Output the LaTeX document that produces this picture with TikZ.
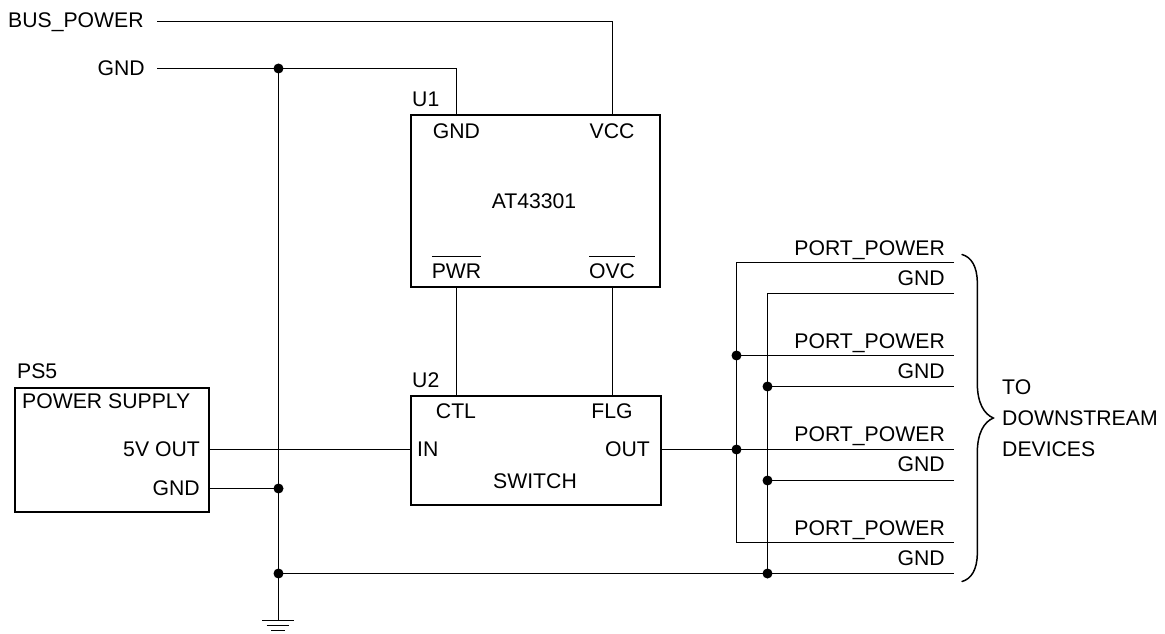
\documentclass[tikz,border=0pt]{standalone}
\usepackage{fontspec}
\setmainfont{Liberation Sans}
\tikzset{
  txt/.style={font=\fontsize{21.2}{25}\selectfont,inner sep=0pt,text=black},
  L/.style={txt,anchor=base west},
  R/.style={txt,anchor=base east},
  C/.style={txt,anchor=base},
  chip/.style={draw=black,line width=2pt,inner sep=0pt,anchor=north west},
  wire/.style={draw=black,line width=1pt},
  dotj/.style={circle,fill=black,draw=none,minimum size=10pt,inner sep=0pt},
}
\newcommand{\ovl}[1]{$\overline{\hbox{\rule{0pt}{20pt}#1}}$}
\begin{document}
\begin{tikzpicture}[x=1pt,y=-1pt]
\useasboundingbox (0,0) rectangle (1165,634);
% boxes
\node[chip,minimum width=249pt,minimum height=172pt] (u1) at (410,114) {};
\node[chip,minimum width=250pt,minimum height=109pt] (u2) at (410,395) {};
\node[chip,minimum width=194pt,minimum height=124pt] (ps) at (14,387) {};
% labels
\node[L] (lbus) at (8,28) {BUS\_POWER};
\node[R] (lgnd) at (145,75) {GND};
\node[L] (tu1) at (412,106.5) {U1};
\node[L] (tu2) at (412,387) {U2};
\node[L] (tps) at (17,378) {PS5};
\node[L] (tpsn) at (22,408) {POWER SUPPLY};
\node[R] (t5v) at (200,456) {5V OUT};
\node[R] (tpg) at (200,495) {GND};
\node[C] (tg1) at (456.5,138) {GND};
\node[C] (tvcc) at (612,138) {VCC};
\node[C] (tat) at (534,208) {AT43301};
\node[C] (tpwr) at (456.5,278) {\ovl{PWR}};
\node[C] (tovc) at (612,278) {\ovl{OVC}};
\node[C] (tctl) at (456,418) {CTL};
\node[C] (tflg) at (612,418) {FLG};
\node[L] (tin) at (417,456) {IN};
\node[R] (tout) at (650,456) {OUT};
\node[C] (tsw) at (535,488) {SWITCH};
\node[R] (p1) at (945,255) {PORT\_POWER};
\node[R] (g1) at (945,285.6) {GND};
\node[R] (p2) at (945,348) {PORT\_POWER};
\node[R] (g2) at (945,378.5) {GND};
\node[R] (p3) at (945,441.5) {PORT\_POWER};
\node[R] (g3) at (945,471.5) {GND};
\node[R] (p4) at (945,535) {PORT\_POWER};
\node[R] (g4) at (945,565.5) {GND};
\node[L] (to1) at (1002,394) {TO};
\node[L] (to2) at (1002,425) {DOWNSTREAM};
\node[L] (to3) at (1002,456.5) {DEVICES};
% junctions
\node[dotj] (ja) at (278.5,68.5) {};
\node[dotj] (jb) at (278.5,488.5) {};
\node[dotj] (jc) at (278.5,573.5) {};
\node[dotj] (jd) at (736.5,355.5) {};
\node[dotj] (je) at (736.5,449.5) {};
\node[dotj] (jf) at (767.5,386.5) {};
\node[dotj] (jg) at (767.5,480.5) {};
\node[dotj] (jh) at (767.5,573.5) {};
% free ends
\coordinate (bus0) at (157,21.5);
\coordinate (gnd0) at (157,68.5);
\coordinate (gbot) at (278.5,620);
\coordinate (e1) at (954,262.5);
\coordinate (e2) at (954,293.5);
\coordinate (e3) at (954,355.5);
\coordinate (e4) at (954,386.5);
\coordinate (e5) at (954,449.5);
\coordinate (e6) at (954,480.5);
\coordinate (e7) at (954,542.5);
\coordinate (e8) at (954,573.5);
\coordinate (vcc) at (612.5,114);
\coordinate (gn) at (456.5,114);
\coordinate (pw) at (456.5,286);
\coordinate (ov) at (612.5,286);
\coordinate (ct) at (456.5,395);
\coordinate (fl) at (612.5,395);
\coordinate (o5) at (208,449.5);
\coordinate (i5) at (410,449.5);
\coordinate (og) at (208,488.5);
\coordinate (osw) at (660,449.5);
% wires
\draw[wire] (bus0) -| (vcc);
\draw[wire] (gnd0) -- (ja.center) -| (gn);
\draw[wire] (ja.center) -- (jb.center) -- (jc.center) -- (gbot);
\draw[wire] (pw) -- (ct);
\draw[wire] (ov) -- (fl);
\draw[wire] (o5) -- (i5);
\draw[wire] (og) -- (jb.center);
\draw[wire] (osw) -- (je.center) -- (e5);
\draw[wire] (jc.center) -- (jh.center) -- (e8);
\draw[wire] (e1) -| (jd.center) -- (je.center) |- (e7);
\draw[wire] (e2) -| (jf.center) -- (jg.center) -- (jh.center);
\draw[wire] (jd.center) -- (e3);
\draw[wire] (jf.center) -- (e4);
\draw[wire] (jg.center) -- (e6);
% ground
\draw[wire] (262,620.5) -- (293.5,620.5);
\draw[wire] (266.5,625.5) -- (289,625.5);
\draw[wire] (271,630) -- (285,630);
% brace
\draw[line width=1.5pt,line cap=round,black]
  (962,254.5) .. controls (971,257) and (977.3,266) .. (977.3,283)
  -- (977.3,383) .. controls (977.3,403) and (984,414) .. (993.3,418)
  .. controls (984,422) and (977.3,433) .. (977.3,453)
  -- (977.3,553) .. controls (977.3,570) and (971,579) .. (962,581.5);
\end{tikzpicture}
\end{document}
